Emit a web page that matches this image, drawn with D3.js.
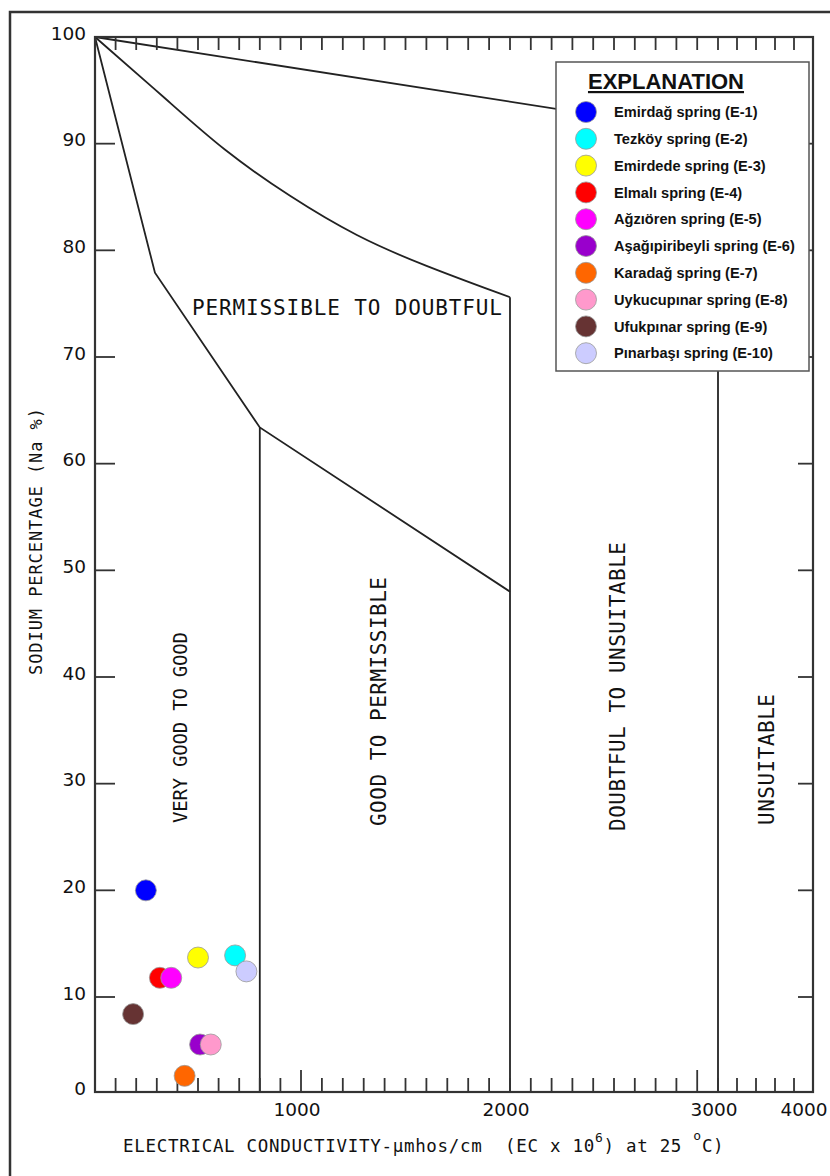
<html>
<head>
<meta charset="utf-8">
<script src="https://d3js.org/d3.v7.min.js"></script>
<style>
body { margin: 0; background: white; }
.mono { font-family: "DejaVu Sans Mono", monospace; fill: #111; }
.tick-label { font-family: "DejaVu Sans", sans-serif; font-size: 18.5px; fill: #111; }
.legend-text { font-family: "Liberation Sans", Arial, sans-serif; font-weight: bold; fill: #111; }
</style>
</head>
<body>
<svg width="830" height="1176"></svg>
<script>
// springs (E-1 .. E-10): EC in umhos/cm and Na %
var springs = ['Emirdağ spring (E-1)', 'Tezköy spring (E-2)', 'Emirdede spring (E-3)', 'Elmalı spring (E-4)',
  'Ağzıören spring (E-5)', 'Aşağıpiribeyli spring (E-6)', 'Karadağ spring (E-7)', 'Uykucupınar spring (E-8)',
  'Ufukpınar spring (E-9)', 'Pınarbaşı spring (E-10)']
var colors = ['#0000ff', '#00ffff', '#ffff00', '#ff0000', '#ff00ff', '#9900cc', '#ff6600', '#ff99cc', '#663333', '#ccccff']
var ecValues = [247, 680, 500, 315, 370, 510, 435, 562, 185, 735]
var naValues = [20.0, 13.9, 13.7, 11.8, 11.8, 5.0, 1.7, 5.0, 8.2, 12.4]

// class boundary lines [EC, Na%]
var line1 = [[0, 100], [3000, 90.9]]
var line2 = [[0, 100], [350, 94.1], [621, 89.4], [947, 85.0], [1268, 81.25], [1584, 78.6], [2000, 75.6]]
var line3 = [[0, 100], [291, 77.9], [800, 63.4], [2000, 48.0]]
var verticals = [[800, 63.4], [2000, 75.6], [3000, 90.9]]

var xLabels = [1000, 2000, 3000, 4000]
var yLabels = [0, 10, 20, 30, 40, 50, 60, 70, 80, 90, 100]
var yTicks = [10, 20, 30, 40, 50, 60, 70, 80, 90]
var xTicks = d3.range(100, 3001, 100).concat([3200, 3400, 3600, 3800])
var xLongTicks = [1000, 2900]

var svg = d3.select('svg')

var x = d3.scaleLinear().domain([0, 1000, 2000, 3000, 4000]).range([95, 301, 510, 718, 813])
var y = d3.scaleLinear().domain([0, 10, 100]).range([1092, 997, 37])

// outer border
svg.append('rect')
  .attr('x', 10).attr('y', 12).attr('width', 830).attr('height', 1180)
  .attr('fill', 'none').attr('stroke', '#333').attr('stroke-width', 2.5)

var lineGen = d3.line().x(function(d) { return x(d[0]) }).y(function(d) { return y(d[1]) })

svg.append('path').datum(line1).attr('d', lineGen)
  .attr('fill', 'none').attr('stroke', '#222').attr('stroke-width', 1.8)
svg.append('path').datum(line2).attr('d', lineGen.curve(d3.curveBasis))
  .attr('fill', 'none').attr('stroke', '#222').attr('stroke-width', 1.8)
lineGen.curve(d3.curveLinear)
svg.append('path').datum(line3).attr('d', lineGen)
  .attr('fill', 'none').attr('stroke', '#222').attr('stroke-width', 1.8)

svg.selectAll('.vline').data(verticals).enter().append('line')
  .attr('x1', function(d) { return x(d[0]) }).attr('x2', function(d) { return x(d[0]) })
  .attr('y1', function(d) { return y(d[1]) }).attr('y2', y(0))
  .attr('stroke', '#222').attr('stroke-width', 1.8)

// frame
svg.append('rect')
  .attr('x', x(0)).attr('y', y(100))
  .attr('width', x(4000) - x(0)).attr('height', y(0) - y(100))
  .attr('fill', 'none').attr('stroke', '#333').attr('stroke-width', 2.2)

// top ticks
svg.selectAll('.ttick').data(xTicks).enter().append('line')
  .attr('x1', function(d) { return x(d) }).attr('x2', function(d) { return x(d) })
  .attr('y1', y(100)).attr('y2', y(100) + 13)
  .attr('stroke', '#333').attr('stroke-width', 1.8)

// bottom ticks
svg.selectAll('.btick').data(xTicks).enter().append('line')
  .attr('x1', function(d) { return x(d) }).attr('x2', function(d) { return x(d) })
  .attr('y1', y(0)).attr('y2', function(d) { return y(0) - (xLongTicks.indexOf(d) >= 0 ? 22 : 14) })
  .attr('stroke', '#333').attr('stroke-width', 1.8)

// left and right ticks
svg.selectAll('.ltick').data(yTicks).enter().append('line')
  .attr('x1', x(0)).attr('x2', x(0) + 20)
  .attr('y1', function(d) { return y(d) }).attr('y2', function(d) { return y(d) })
  .attr('stroke', '#333').attr('stroke-width', 1.8)
svg.selectAll('.rtick').data(yTicks).enter().append('line')
  .attr('x1', x(4000)).attr('x2', x(4000) - 15)
  .attr('y1', function(d) { return y(d) }).attr('y2', function(d) { return y(d) })
  .attr('stroke', '#333').attr('stroke-width', 1.8)

// tick labels
svg.selectAll('.ylab').data(yLabels).enter().append('text')
  .attr('class', 'tick-label')
  .attr('x', 86).attr('y', function(d) { return y(d) - 4 })
  .attr('dy', '0.36em').attr('text-anchor', 'end')
  .text(function(d) { return d })
svg.selectAll('.xlab').data(xLabels).enter().append('text')
  .attr('class', 'tick-label')
  .attr('x', function(d) { return Math.min(x(d) - 4, 804) }).attr('y', 1116)
  .attr('text-anchor', 'middle')
  .text(function(d) { return d })

// zone labels
svg.append('text').attr('class', 'mono')
  .attr('x', 192).attr('y', 315).attr('font-size', 21)
  .attr('textLength', 310).attr('lengthAdjust', 'spacing')
  .text('PERMISSIBLE TO DOUBTFUL')

var rotLabels = [
  {t: 'VERY GOOD TO GOOD', x: 187, y: 823, len: 191, fs: 19},
  {t: 'GOOD TO PERMISSIBLE', x: 386, y: 826, len: 249, fs: 21},
  {t: 'DOUBTFUL TO UNSUITABLE', x: 625, y: 831, len: 289, fs: 21},
  {t: 'UNSUITABLE', x: 774, y: 825, len: 131, fs: 21}
]
rotLabels.forEach(function(d) {
  svg.append('text').attr('class', 'mono')
    .attr('transform', 'translate(' + d.x + ',' + d.y + ') rotate(-90)')
    .attr('font-size', d.fs)
    .attr('textLength', d.len).attr('lengthAdjust', 'spacing')
    .text(d.t)
})

// axis titles
svg.append('text').attr('class', 'mono')
  .attr('transform', 'translate(42,675) rotate(-90)')
  .attr('font-size', 17)
  .attr('textLength', 267).attr('lengthAdjust', 'spacing')
  .text('SODIUM PERCENTAGE (Na %)')

var xt = svg.append('text').attr('class', 'mono')
  .attr('x', 123).attr('y', 1152).attr('font-size', 17.5).attr('letter-spacing', 0.7)
xt.append('tspan').text('ELECTRICAL CONDUCTIVITY-µmhos/cm\u00a0\u00a0(EC x 10')
xt.append('tspan').attr('font-size', 13).attr('dy', -10).text('6')
xt.append('tspan').attr('dy', 10).text(') at 25\u00a0')
xt.append('tspan').attr('font-size', 13).attr('dy', -12).text('o')
xt.append('tspan').attr('dy', 12).text('C)')

// points
svg.selectAll('.pt').data(springs).enter().append('circle')
  .attr('cx', function(d, i) { return x(ecValues[i]) })
  .attr('cy', function(d, i) { return y(naValues[i]) })
  .attr('r', 10.5)
  .attr('fill', function(d, i) { return colors[i] })
  .attr('stroke', '#999').attr('stroke-width', 0.8)

// legend
var lg = svg.append('g').attr('transform', 'translate(556,62)')
lg.append('rect').attr('width', 253).attr('height', 309)
  .attr('fill', 'white').attr('stroke', '#555').attr('stroke-width', 1.5)
lg.append('text').attr('class', 'legend-text')
  .attr('x', 110).attr('y', 27).attr('font-size', 22).attr('text-anchor', 'middle')
  .attr('text-decoration', 'underline')
  .text('EXPLANATION')
var items = lg.selectAll('.item').data(springs).enter().append('g')
  .attr('transform', function(d, i) { return 'translate(0,' + (50 + i * 26.8) + ')' })
items.append('circle').attr('cx', 30).attr('cy', 0).attr('r', 10.5)
  .attr('fill', function(d, i) { return colors[i] })
  .attr('stroke', '#999').attr('stroke-width', 0.8)
items.append('text').attr('class', 'legend-text')
  .attr('x', 58).attr('y', 0).attr('dy', '0.35em').attr('font-size', 14.6)
  .text(function(d) { return d })
</script>
</body>
</html>
